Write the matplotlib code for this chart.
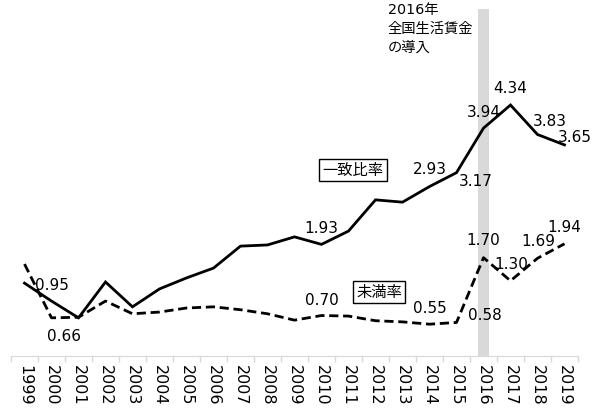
import numpy as np
import matplotlib
matplotlib.use("Agg")
import matplotlib.pyplot as plt

plt.rcParams['font.family'] = ['DejaVu Sans', 'Noto Sans CJK JP']

years = [str(y) for y in range(1999, 2020)]
match_rate = [1.26, 0.95, 0.66, 1.28, 0.85, 1.16, 1.35, 1.52, 1.90, 1.92, 2.06,
              1.93, 2.16, 2.70, 2.66, 2.93, 3.17, 3.94, 4.34, 3.83, 3.65]
below_rate = [1.59, 0.66, 0.67, 0.95, 0.73, 0.76, 0.83, 0.85, 0.80, 0.73, 0.62,
              0.70, 0.69, 0.61, 0.59, 0.55, 0.58, 1.70, 1.30, 1.69, 1.94]
match_label_years = ['2000', '2010', '2014', '2015', '2016', '2017', '2018', '2019']
below_label_years = ['2001', '2010', '2014', '2015', '2016', '2017', '2018', '2019']
highlight_year = '2016'

# label offsets in pixels (dx, dy)
match_off = {'2000': (0, 17), '2010': (0, 17), '2014': (0, 18), '2015': (19, -8),
             '2016': (0, 17), '2017': (0, 18), '2018': (12, 14), '2019': (10, 8)}
below_off = {'2001': (-15, -18), '2010': (0, 16), '2014': (0, 17), '2015': (28, 8),
             '2016': (0, 18), '2017': (1, 17), '2018': (1, 18), '2019': (0, 17)}

fig = plt.figure(figsize=(6.1, 4.1), dpi=100)
ax = fig.add_axes([11/610, 1 - 357/410, 567/610, 347/410])

x = np.arange(len(years))
hi = years.index(highlight_year)
ax.axvspan(hi - 0.2, hi + 0.2, color='#d9d9d9', lw=0, zorder=0)

ax.plot(x, match_rate, color='black', lw=2, solid_joinstyle='miter', zorder=3)
ax.plot(x, below_rate, color='black', lw=2, linestyle=(0, (3.3, 1.7)), zorder=3)

# for 2001 the label below sits under the solid line's point
for yr in match_label_years:
    i = years.index(yr)
    ax.annotate(f"{match_rate[i]:.2f}", (i, match_rate[i]), xytext=match_off[yr],
                textcoords='offset pixels', ha='center', va='center', fontsize=11)
for yr in below_label_years:
    i = years.index(yr)
    v = below_rate[i] if yr != '2001' else match_rate[i]
    ax.annotate(f"{v:.2f}", (i, v), xytext=below_off[yr],
                textcoords='offset pixels', ha='center', va='center', fontsize=11)

box = dict(boxstyle='square,pad=0.22', fc='white', ec='black', lw=1)
ax.text(12.17, 3.22, '一致比率', ha='center', va='center', fontsize=11, bbox=box, zorder=4)
ax.text(13.13, 1.11, '未満率', ha='center', va='center', fontsize=11, bbox=box, zorder=4)

fig.text(388/610, 1 - 3/410, '2016年\n全国生活賃金\nの導入', ha='left', va='top',
         fontsize=10.3, linespacing=1.45)

ax.set_xlim(-0.5, len(years) - 0.5)
ax.set_ylim(0, 6)
ax.set_xticks(x)
ax.set_xticklabels(years, rotation=-90, fontsize=11.5)
ax.set_xticks(np.arange(-0.5, len(years)), minor=True)
ax.tick_params(axis='x', which='major', length=0, pad=6)
ax.tick_params(axis='x', which='minor', length=4, color='#d9d9d9', width=1)
ax.set_yticks([])
for s in ['left', 'right', 'top']:
    ax.spines[s].set_visible(False)
ax.spines['bottom'].set_color('#d9d9d9')

fig.savefig('out.png', dpi=100)
